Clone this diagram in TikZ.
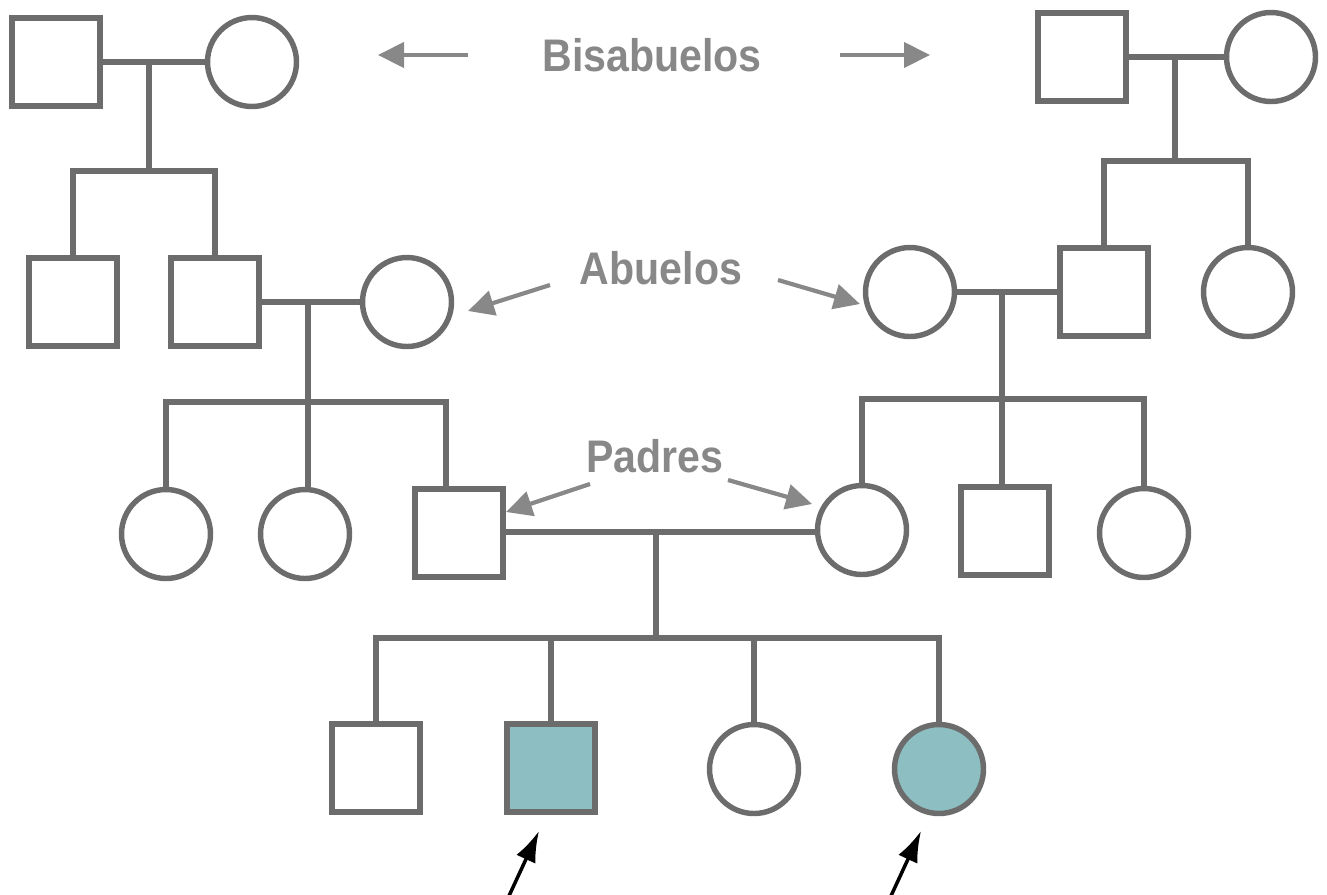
\documentclass[tikz,border=0pt]{standalone}
\usepackage{fontspec}
\newfontfamily\genfont[FakeStretch=0.9]{Liberation Sans}
\usetikzlibrary{arrows.meta}
\definecolor{lineg}{RGB}{108,108,108}
\definecolor{textg}{RGB}{136,136,136}
\definecolor{affect}{RGB}{141,190,193}
\tikzset{
  male/.style={draw=lineg, line width=3.1pt, minimum size=1.76cm, inner sep=0pt},
  female/.style={circle, draw=lineg, line width=3.1pt, minimum size=1.78cm, inner sep=0pt},
  affected/.style={fill=affect},
  kin/.style={draw=lineg, line width=3.1pt},
  gentext/.style={text=textg, font=\genfont\bfseries\fontsize{26}{30}\selectfont},
  pointer/.style={draw=textg, line width=2.4pt, -{Triangle[length=0.52cm,width=0.5cm]}},
  proband/.style={draw=black, line width=2pt, -{Latex[length=0.62cm,width=0.42cm]}}
}

\begin{document}
\begin{tikzpicture}[x=0.02cm,y=-0.02cm]
\useasboundingbox (0,0) rectangle (1327,894);

% Bisabuelos (left and right)
\node[male] (bisabuelo1) at (56,62) {};
\node[female] (bisabuela1) at (252,62) {};
\node[male] (bisabuelo2) at (1082,57) {};
\node[female] (bisabuela2) at (1271,57) {};

% Abuelos and their siblings
\node[male] (tio1) at (73,302) {};
\node[male] (abuelo1) at (215,302) {};
\node[female] (abuela1) at (407,302) {};
\node[female] (abuela2) at (910,292) {};
\node[male] (abuelo2) at (1104,292) {};
\node[female] (tia4) at (1248,292) {};

% Padres and their siblings
\node[female] (tia1) at (166,534) {};
\node[female] (tia2) at (305,534) {};
\node[male] (padre) at (459,533) {};
\node[female] (madre) at (862,530) {};
\node[male] (tio2) at (1005,531) {};
\node[female] (tia5) at (1144,533) {};

% Hijos
\node[male] (hijo1) at (376,768) {};
\node[male,affected] (hijo2) at (551,768) {};
\node[female] (hija1) at (754,769) {};
\node[female,affected] (hija2) at (939,769) {};

% Junctions of couples and sibling bars
\coordinate (m1) at (149,62);   \coordinate (b1) at (149,171);
\coordinate (m2) at (308,302);  \coordinate (b2) at (308,402);
\coordinate (m3) at (1175,57);  \coordinate (b3) at (1175,161);
\coordinate (m4) at (1002,292); \coordinate (b4) at (1002,399);
\coordinate (m5) at (656,532);  \coordinate (b5) at (656,638);
\coordinate (p2) at ([xshift=-0.26cm]padre.north);

% Couple lines
\draw[kin] (bisabuelo1) -- (bisabuela1);
\draw[kin] (bisabuelo2) -- (bisabuela2);
\draw[kin] (abuelo1) -- (abuela1);
\draw[kin] (abuela2) -- (abuelo2);
\draw[kin] (padre.east |- m5) -- (madre.west |- m5);

% Descent lines and sibling bars
\draw[kin] (m1) -- (b1);
\draw[kin] (tio1.north) |- (b1) -| (abuelo1.north);
\draw[kin] (m3) -- (b3);
\draw[kin] (abuelo2.north) |- (b3) -| (tia4.north);
\draw[kin] (m2) -- (m2 |- tia2.north);
\draw[kin] (tia1.north) |- (b2) -| (p2);
\draw[kin] (m4) -- (m4 |- tio2.north);
\draw[kin] (madre.north) |- (b4) -| (tia5.north);
\draw[kin] (m5) -- (b5);
\draw[kin] (hijo1.north) |- (b5) -| (hija2.north);
\draw[kin] (hijo2.north) -- (hijo2.north |- b5);
\draw[kin] (hija1.north) -- (hija1.north |- b5);

% Generation labels
\node[gentext] (bis) at (652,55) {Bisabuelos};
\node[gentext] (abu) at (661,268) {Abuelos};
\node[gentext] (pad) at (655,456) {Padres};

% Arrows from the labels
\coordinate (bisLt) at (468,55);  \coordinate (bisLh) at (378,55);
\coordinate (bisRt) at (840,55);  \coordinate (bisRh) at (930,55);
\coordinate (abuLt) at (550,285); \coordinate (abuLh) at (468,311);
\coordinate (abuRt) at (778,280); \coordinate (abuRh) at (860,304);
\coordinate (padLt) at (590,484); \coordinate (padLh) at (506,512);
\coordinate (padRt) at (728,480); \coordinate (padRh) at (812,504);
\draw[pointer] (bisLt) -- (bisLh);
\draw[pointer] (bisRt) -- (bisRh);
\draw[pointer] (abuLt) -- (abuLh);
\draw[pointer] (abuRt) -- (abuRh);
\draw[pointer] (padLt) -- (padLh);
\draw[pointer] (padRt) -- (padRh);

% Arrows to the affected children
\coordinate (a1) at (508,898); \coordinate (a1h) at (539,831);
\coordinate (a2) at (890,898); \coordinate (a2h) at (921,831);
\draw[proband] (a1) -- (a1h);
\draw[proband] (a2) -- (a2h);

\end{tikzpicture}
\end{document}
